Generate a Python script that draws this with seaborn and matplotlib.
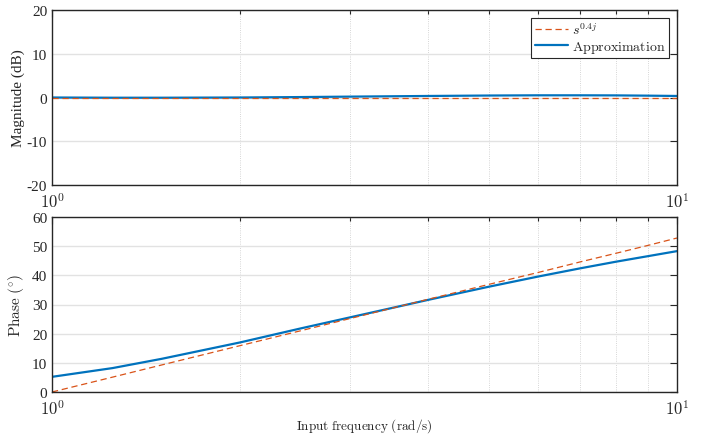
import numpy as np
import pandas as pd
import matplotlib
matplotlib.use("Agg")
import matplotlib.pyplot as plt
import seaborn as sns
from matplotlib.ticker import FixedLocator, NullFormatter, FixedFormatter

# ---- data ----
freq = [1, 1.25, 1.5, 2, 2.5, 3, 4, 5, 6, 7, 8, 9, 10]
mag_exact = [0, 0, 0, 0, 0, 0, 0, 0, 0, 0, 0, 0, 0]
mag_approx = [0.0, -0.05, -0.05, 0.0, 0.1, 0.2, 0.35, 0.45, 0.5, 0.5, 0.48, 0.42, 0.35]
phase_exact = [0.0, 5.1, 9.3, 15.9, 21.0, 25.2, 31.8, 36.9, 41.0, 44.6, 47.6, 50.3, 52.8]
phase_approx = [5.2, 8.2, 11.4, 17.0, 21.8, 25.6, 31.6, 36.1, 39.6, 42.4, 44.7, 46.6, 48.3]
label_exact = r"$s^{0.4j}$"
label_approx = r"$\mathrm{Approximation}$"

df = pd.DataFrame({"freq": freq, "mag_exact": mag_exact, "mag_approx": mag_approx,
                   "phase_exact": phase_exact, "phase_approx": phase_approx})

sns.set_style("white")
plt.rcParams["font.family"] = ["Liberation Serif", "DejaVu Serif"]
plt.rcParams["mathtext.fontset"] = "cm"
plt.rcParams["axes.unicode_minus"] = False

BLUE = "#0072BD"
ORANGE = "#D95319"

fig = plt.figure(figsize=(7.04, 4.39), dpi=100)
ax1 = fig.add_axes([52/704, 1-186/439, 625/704, 175/439])
ax2 = fig.add_axes([52/704, 1-393/439, 625/704, 175/439])

def style(ax, ylim, yticks):
    ax.set_xscale("log")
    ax.set_xlim(1, 10)
    ax.set_ylim(*ylim)
    ax.yaxis.set_major_locator(FixedLocator(yticks))
    ax.xaxis.set_major_locator(FixedLocator([1, 10]))
    ax.xaxis.set_major_formatter(FixedFormatter([r"$10^{0}$", r"$10^{1}$"]))
    ax.xaxis.set_minor_locator(FixedLocator([2, 3, 4, 5, 6, 7, 8, 9]))
    ax.xaxis.set_minor_formatter(NullFormatter())
    ax.tick_params(which="both", direction="in", top=True, right=True,
                   colors="#262626", labelsize=11, width=0.8)
    ax.tick_params(which="major", length=5)
    ax.tick_params(which="minor", length=3)
    ax.tick_params(axis="x", which="major", pad=5)
    ax.grid(True, axis="y", which="major", color="#e2e2e2", linewidth=1.0, linestyle="-")
    ax.grid(True, axis="x", which="minor", color="#c8c8c8", linewidth=0.6, linestyle=":")
    ax.grid(True, axis="x", which="major", color="#c8c8c8", linewidth=0.6, linestyle=":")
    for s in ax.spines.values():
        s.set_color("#262626")
        s.set_linewidth(1.0)
    for lab in ax.get_xticklabels():
        lab.set_fontsize(12)

# magnitude
sns.lineplot(data=df, x="freq", y="mag_approx", ax=ax1, color=BLUE, linewidth=1.6, label=label_approx)
sns.lineplot(data=df, x="freq", y="mag_exact", ax=ax1, color=ORANGE, linewidth=0.9,
             linestyle=(0, (5, 3)), label=label_exact)
style(ax1, (-20, 20), [-20, -10, 0, 10, 20])
ax1.set_xlabel("")
ax1.set_ylabel("Magnitude (dB)", fontsize=11, labelpad=1)

handles, labels = ax1.get_legend_handles_labels()
leg = ax1.legend([handles[1], handles[0]], [labels[1], labels[0]], loc="upper right",
                 fontsize=10, frameon=True, fancybox=False, framealpha=1,
                 edgecolor="#262626", handlelength=2.4, borderaxespad=0.55,
                 borderpad=0.25, labelspacing=0.15, handletextpad=0.3)
leg.get_frame().set_linewidth(0.8)

# phase
sns.lineplot(data=df, x="freq", y="phase_approx", ax=ax2, color=BLUE, linewidth=1.6, legend=False)
sns.lineplot(data=df, x="freq", y="phase_exact", ax=ax2, color=ORANGE, linewidth=0.9,
             linestyle=(0, (5, 3)), legend=False)
style(ax2, (0, 60), [0, 10, 20, 30, 40, 50, 60])
ax2.set_xlabel(r"$\mathrm{Input\ frequency\ (rad/s)}$", fontsize=9.5, labelpad=-1)
ax2.set_ylabel(r"$\mathrm{Phase\ (^{\circ})}$", fontsize=11, labelpad=4)

fig.savefig("out.png", dpi=100)
